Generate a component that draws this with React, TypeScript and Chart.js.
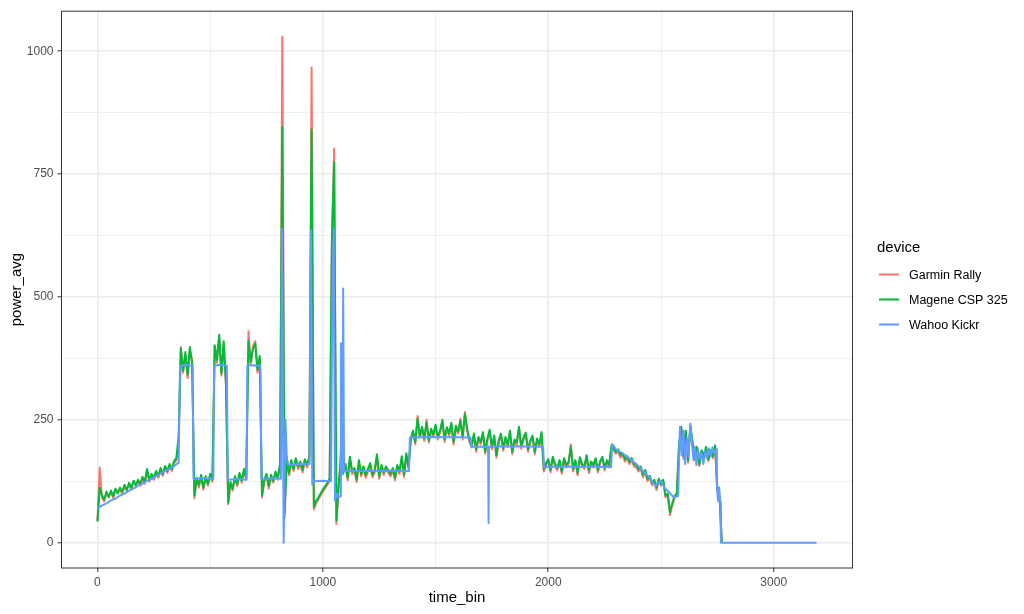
import React, { useEffect, useRef } from "react";
import { Chart, registerables } from "chart.js";

Chart.register(...registerables);

// ---- DATA ----
const TIME_STEP = 10; // time_bin spacing for the Garmin / Magene recordings

const garminPower = [
  45, 153, 92, 84, 100, 96, 102, 91, 106, 104,
  108, 99, 114, 110, 118, 108, 122, 120, 124, 116,
  130, 120, 146, 124, 136, 128, 142, 132, 148, 136,
  152, 142, 156, 146, 162, 168, 200, 398, 346, 380,
  335, 392, 370, 90, 128, 112, 134, 108, 131, 116,
  136, 124, 398, 366, 418, 340, 404, 320, 78, 120,
  106, 131, 115, 138, 122, 146, 128, 430, 362, 400,
  410, 346, 374, 92, 124, 136, 110, 134, 122, 141,
  128, 156, 1030, 50, 175, 137, 163, 146, 168, 150,
  160, 143, 166, 153, 171, 967, 68, 80, 88, 96,
  104, 111, 118, 126, 600, 802, 38, 110, 190, 150,
  155, 127, 170, 140, 148, 123, 163, 135, 150, 132,
  145, 157, 133, 143, 175, 130, 153, 138, 150, 142,
  135, 147, 127, 153, 140, 171, 133, 177, 150, 208,
  224, 200, 258, 214, 232, 207, 250, 204, 228, 215,
  236, 210, 224, 246, 205, 231, 218, 240, 200, 234,
  222, 252, 210, 266, 228, 205, 194, 218, 185, 211,
  200, 221, 181, 208, 226, 190, 214, 173, 203, 218,
  187, 211, 195, 224, 180, 206, 199, 232, 191, 210,
  220, 185, 204, 214, 180, 208, 196, 221, 145, 158,
  166, 143, 171, 156, 147, 164, 140, 168, 153, 160,
  200, 145, 164, 137, 170, 156, 150, 174, 142, 161,
  153, 168, 143, 162, 171, 147, 164, 153, 194, 188,
  181, 186, 173, 178, 165, 172, 160, 168, 155, 154,
  145, 151, 133, 144, 125, 132, 117, 124, 107, 126,
  116, 124, 92, 96, 56, 76, 91, 96, 196, 232,
  170, 224, 163, 234, 200, 168, 190, 156, 184, 174,
  191, 166, 184, 172, 194, 104, 88, 0,
];

const magenePower = [
  43, 112, 96, 88, 104, 92, 106, 95, 110, 100,
  112, 104, 118, 106, 122, 112, 126, 116, 128, 120,
  134, 124, 150, 128, 140, 132, 146, 136, 152, 140,
  156, 146, 160, 150, 166, 172, 215, 395, 350, 388,
  342, 398, 365, 96, 132, 118, 138, 112, 135, 120,
  140, 128, 402, 372, 423, 345, 410, 325, 82, 124,
  110, 135, 119, 142, 126, 150, 132, 410, 368, 395,
  405, 352, 380, 96, 128, 140, 115, 138, 126, 145,
  132, 160, 845, 60, 170, 142, 168, 150, 172, 155,
  165, 148, 170, 158, 175, 841, 73, 85, 92, 100,
  108, 115, 122, 130, 620, 774, 45, 120, 165, 140,
  160, 132, 175, 145, 152, 128, 168, 140, 155, 137,
  150, 162, 138, 148, 180, 135, 158, 143, 155, 147,
  140, 152, 132, 158, 145, 176, 138, 182, 155, 212,
  228, 205, 252, 218, 236, 212, 245, 208, 232, 220,
  240, 215, 228, 250, 210, 235, 222, 244, 205, 238,
  226, 248, 215, 262, 232, 210, 198, 222, 190, 215,
  205, 225, 186, 212, 230, 195, 218, 178, 208, 222,
  192, 215, 200, 228, 185, 210, 204, 236, 196, 214,
  224, 190, 208, 218, 185, 212, 200, 225, 150, 162,
  170, 148, 175, 160, 152, 168, 145, 172, 158, 164,
  195, 150, 168, 142, 174, 160, 155, 178, 147, 165,
  158, 172, 148, 166, 175, 152, 168, 158, 198, 192,
  185, 190, 178, 182, 170, 176, 165, 172, 160, 158,
  150, 155, 138, 148, 130, 136, 122, 128, 112, 130,
  120, 128, 96, 100, 62, 80, 95, 100, 200, 236,
  175, 228, 168, 238, 205, 172, 195, 160, 188, 178,
  195, 170, 188, 176, 198, 108, 92, 0,
];

const timeBins = magenePower.map((_, i) => i * TIME_STEP);

const wahooTime = [
  0, 20, 40, 60, 80, 100, 120, 140, 160, 180, 200, 220, 240, 260, 280, 300, 320, 340, 360,
  366, 390, 422, 426, 470, 514, 518, 545, 574, 578, 620, 661, 665, 695, 723, 727, 770, 814,
  819, 826, 834, 840, 846, 900, 941, 947, 953, 957, 961, 1000, 1036, 1042, 1048, 1054, 1062,
  1070, 1076, 1080, 1083, 1087, 1090, 1094, 1200, 1300, 1382, 1386, 1500, 1655, 1659, 1733,
  1735, 1737, 1850, 1977, 1981, 2100, 2279, 2283, 2300, 2330, 2360, 2390, 2420, 2450, 2476,
  2490, 2500, 2515, 2535, 2555, 2576, 2584, 2592, 2600, 2607, 2615, 2622, 2630, 2637, 2644,
  2650, 2657, 2664, 2672, 2680, 2688, 2696, 2704, 2712, 2720, 2728, 2736, 2744, 2748, 2753,
  2758, 2763, 2766, 3190,
];
const wahooPower = [
  70, 76, 80, 86, 90, 96, 100, 106, 110, 116, 120, 126, 130, 136, 140, 146, 150, 156, 163,
  359, 362, 360, 130, 131, 130, 360, 362, 360, 128, 129, 128, 360, 361, 360, 130, 131, 130,
  639, 0, 250, 170, 158, 160, 160, 636, 118, 128, 125, 126, 125, 500, 639, 85, 100,
  92, 95, 406, 140, 140, 517, 146, 146, 147, 146, 214, 215, 214, 195, 195,
  40, 195, 196, 195, 154, 155, 154, 201, 190, 182, 171, 160, 146, 132, 115,
  122, 126, 112, 103, 93, 95, 236, 178, 228, 160, 212, 175, 242, 205, 168,
  195, 158, 190, 170, 182, 160, 188, 172, 192, 176, 194, 182, 190, 118, 85,
  113, 82, 0, 0,
];

const xMajorTicks = [0, 1000, 2000, 3000];
const xMinorTicks = [500, 1500, 2500];
const yMajorTicks = [0, 250, 500, 750, 1000];
const yMinorTicks = [125, 375, 625, 875];

const seriesNames = ["Garmin Rally", "Magene CSP 325", "Wahoo Kickr"];
const seriesColors = ["#F8766D", "#00BA38", "#619CFF"];

const FONT = '"Liberation Sans", Arial, Helvetica, sans-serif';

const toPoints = (xs: number[], ys: number[]) => ys.map((y, i) => ({ x: xs[i], y }));

const decorPlugin = {
  id: "decor",
  afterDraw(chart: any) {
    const { ctx, chartArea: a } = chart;
    ctx.save();
    // panel border
    ctx.strokeStyle = "#333333";
    ctx.lineWidth = 1;
    ctx.strokeRect(a.left, a.top, a.right - a.left, a.bottom - a.top);
    // axis titles
    ctx.fillStyle = "#000000";
    ctx.font = `15px ${FONT}`;
    ctx.textAlign = "center";
    ctx.textBaseline = "middle";
    ctx.fillText("time_bin", (a.left + a.right) / 2, 598);
    ctx.save();
    ctx.translate(17, (a.top + a.bottom) / 2);
    ctx.rotate(-Math.PI / 2);
    ctx.fillText("power_avg", 0, 0);
    ctx.restore();
    // legend
    ctx.textAlign = "left";
    ctx.fillText("device", 877, 248);
    ctx.font = `12.5px ${FONT}`;
    seriesNames.forEach((name, i) => {
      const y = 274.5 + i * 25;
      ctx.strokeStyle = seriesColors[i];
      ctx.lineWidth = 2;
      ctx.beginPath();
      ctx.moveTo(879, y);
      ctx.lineTo(899, y);
      ctx.stroke();
      ctx.fillStyle = "#000000";
      ctx.fillText(name, 909, y + 1);
    });
    ctx.restore();
  },
};

export default function App() {
  const ref = useRef<HTMLCanvasElement | null>(null);

  useEffect(() => {
    if (!ref.current) return;
    const isMajor = (list: number[], v: number) => list.includes(v);
    const chart = new Chart(ref.current, {
      type: "line",
      data: {
        datasets: [
          {
            label: seriesNames[0],
            data: toPoints(timeBins, garminPower),
            borderColor: seriesColors[0],
            order: 3,
          },
          {
            label: seriesNames[1],
            data: toPoints(timeBins, magenePower),
            borderColor: seriesColors[1],
            order: 2,
          },
          {
            label: seriesNames[2],
            data: toPoints(wahooTime, wahooPower),
            borderColor: seriesColors[2],
            order: 1,
          },
        ] as any,
      },
      options: {
        responsive: false,
        animation: false,
        devicePixelRatio: 1,
        elements: {
          point: { radius: 0 },
          line: { borderWidth: 2, tension: 0, borderJoinStyle: "round" },
        },
        layout: { padding: { top: 8, right: 171.5, left: 0, bottom: 0 } },
        plugins: { legend: { display: false }, tooltip: { enabled: false } },
        scales: {
          x: {
            type: "linear",
            min: -159.5,
            max: 3349.5,
            afterFit: (s: any) => {
              s.height = 46;
            },
            afterBuildTicks: (s: any) => {
              s.ticks = [...xMajorTicks, ...xMinorTicks].sort((p, q) => p - q).map((v) => ({ value: v }));
            },
            border: { display: false },
            grid: {
              color: "#EBEBEB",
              lineWidth: (c: any) => (isMajor(xMajorTicks, c.tick?.value) ? 1.6 : 0.8),
              drawTicks: true,
              tickLength: 4,
              tickColor: (c: any) => (isMajor(xMajorTicks, c.tick?.value) ? "#333333" : "rgba(0,0,0,0)"),
              tickWidth: 1,
            },
            ticks: {
              autoSkip: false,
              maxRotation: 0,
              padding: 3,
              color: "#4D4D4D",
              font: { size: 12, family: FONT },
              callback: (v: any) => (xMajorTicks.includes(Number(v)) ? String(v) : ""),
            },
          },
          y: {
            type: "linear",
            min: -51.5,
            max: 1081.5,
            afterFit: (s: any) => {
              s.width = 61.5;
            },
            afterBuildTicks: (s: any) => {
              s.ticks = [...yMajorTicks, ...yMinorTicks].sort((p, q) => p - q).map((v) => ({ value: v }));
            },
            border: { display: false },
            grid: {
              color: "#EBEBEB",
              lineWidth: (c: any) => (isMajor(yMajorTicks, c.tick?.value) ? 1.6 : 0.8),
              drawTicks: true,
              tickLength: 4,
              tickColor: (c: any) => (isMajor(yMajorTicks, c.tick?.value) ? "#333333" : "rgba(0,0,0,0)"),
              tickWidth: 1,
            },
            ticks: {
              autoSkip: false,
              padding: 4,
              color: "#4D4D4D",
              font: { size: 12, family: FONT },
              callback: (v: any) => (yMajorTicks.includes(Number(v)) ? String(v) : ""),
            },
          },
        },
      },
      plugins: [decorPlugin],
    } as any);
    return () => chart.destroy();
  }, []);

  return (
    <div style={{ position: "absolute", left: 0, top: 0, width: 1024, height: 614, background: "#ffffff" }}>
      <canvas ref={ref} width={1024} height={614} style={{ display: "block", width: 1024, height: 614 }} />
    </div>
  );
}
